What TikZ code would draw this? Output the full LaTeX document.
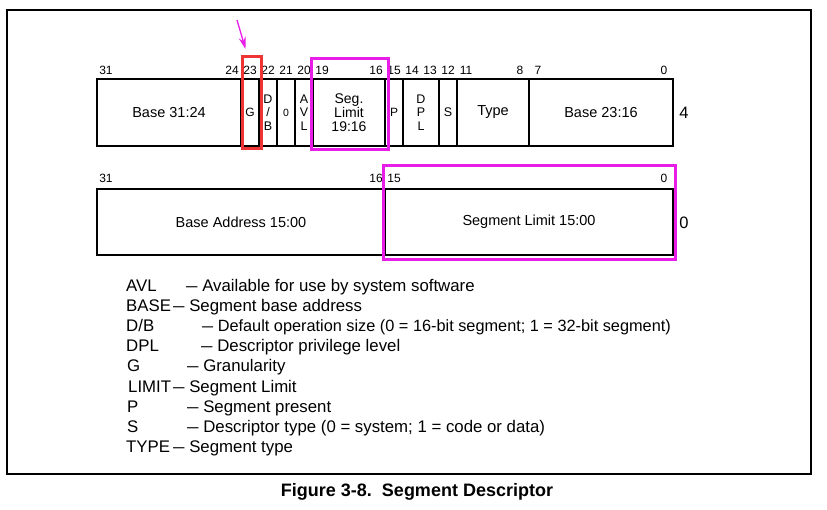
\documentclass[tikz,border=0pt]{standalone}
\usepackage{fontspec}
\setmainfont{Liberation Sans}
\usepackage{graphicx}
\usetikzlibrary{arrows.meta}
\definecolor{hlred}{RGB}{238,52,52}
\definecolor{hlmag}{RGB}{232,30,232}
\newcommand{\legdash}{\scalebox{0.68}[1]{—}}
\begin{document}
\begin{tikzpicture}[x=1pt,y=-1pt,
  cell/.style={draw, line width=1.6pt, inner sep=0pt, outer sep=0pt, align=center,
    font=\fontsize{14.5}{16}\selectfont},
  narrow/.style={cell, minimum width=18, minimum height=67, font=\fontsize{12.5}{13.5}\selectfont},
  tiny/.style={cell, minimum width=18, minimum height=67, font=\fontsize{10.5}{12}\selectfont},
  wide/.style={cell, minimum height=67},
  bitno/.style={inner sep=0pt, anchor=base, font=\fontsize{12}{12}\selectfont},
  legtext/.style={inner sep=0pt, anchor=base west, font=\fontsize{16.8}{18}\selectfont},
  rowno/.style={inner sep=0pt, font=\fontsize{16.5}{17}\selectfont},
]
\useasboundingbox (0,0) rectangle (827,510);
% outer frame
\draw[line width=2.2pt] (7,10) rectangle (811,474);

% ---- top row (offset 4) ----
\node[wide, minimum width=144] (base3124) at (169,112.5) {Base 31:24};
\node[narrow, font=\fontsize{12}{13}\selectfont] (g) at (250,112.5) {G};
\node[narrow] (db) at (268,112.5) {D\\/\\B};
\node[tiny] (zero) at (286,112.5) {0};
\node[narrow] (avl) at (304,112.5) {A\\V\\L};
\node[wide, minimum width=72, font=\fontsize{14}{14}\selectfont] (seglim) at (349,112.5) {Seg.\\Limit\\19:16};
\node[narrow, font=\fontsize{12}{13}\selectfont] (p) at (394,112.5) {P};
\node[narrow, minimum width=36] (dpl) at (421,112.5) {D\\P\\L};
\node[narrow] (s) at (448,112.5) {S};
\node[wide, minimum width=72] (type) at (493,112.5) {Type};
\node[wide, minimum width=144] (base2316) at (601,112.5) {Base 23:16};
\draw[line width=2.2pt] (97,79) rectangle (673,146);

\foreach \b in {31,24,23,22,21,20,19,16,15,14,13,12,11,8,7,0}
  \node[bitno] (t\b) at ({664-18*\b},75) {\b};
\node[rowno] (r4) at (684,113) {4};

% ---- bottom row (offset 0) ----
\node[cell, minimum width=288, minimum height=66] (baseaddr) at (241,222) {Base Address 15:00};
\node[cell, minimum width=288, minimum height=66] (seglimlow) at (529,222) {Segment Limit 15:00};
\draw[line width=2.2pt] (97,189) rectangle (673,255);
\foreach \b in {31,16,15,0}
  \node[bitno] (b\b) at ({664-18*\b},183) {\b};
\node[rowno] (r0) at (684,223) {0};

% ---- highlights ----
\draw[hlred, line width=3pt] (242.5,56.5) rectangle (261.5,148.5);
\draw[hlmag, line width=3pt] (311.5,58.5) rectangle (388.5,149.5);
\draw[hlmag, line width=3pt] (383.5,165.5) rectangle (675.5,259.5);
\coordinate (arrowstart) at (237,20);
\coordinate (arrowtip) at (245.5,49);
\draw[hlmag, line width=1.3pt, -{Stealth[length=12pt,width=7pt]}] (arrowstart) -- (arrowtip);

% ---- legend ----
\node[legtext] (a1) at (126,292) {AVL};
\node[legtext] (d1) at (186,292) {\legdash\ Available for use by system software};
\node[legtext] (a2) at (126,312) {BASE};
\node[legtext] (d2) at (173,312) {\legdash\ Segment base address};
\node[legtext] (a3) at (126,332) {D/B};
\node[legtext, font=\fontsize{16.3}{18}\selectfont] (d3) at (202,332) {\legdash\ Default operation size (0 = 16-bit segment; 1 = 32-bit segment)};
\node[legtext] (a4) at (126,352) {DPL};
\node[legtext] (d4) at (201,352) {\legdash\ Descriptor privilege level};
\node[legtext] (a5) at (127,372) {G};
\node[legtext] (d5) at (187,372) {\legdash\ Granularity};
\node[legtext] (a6) at (128,392) {LIMIT};
\node[legtext] (d6) at (173,392) {\legdash\ Segment Limit};
\node[legtext] (a7) at (127,412) {P};
\node[legtext] (d7) at (187,412) {\legdash\ Segment present};
\node[legtext] (a8) at (127,432) {S};
\node[legtext] (d8) at (187,432) {\legdash\ Descriptor type (0 = system; 1 = code or data)};
\node[legtext] (a9) at (126,452.5) {TYPE};
\node[legtext] (d9) at (173,452.5) {\legdash\ Segment type};

% ---- caption ----
\node[inner sep=0pt, anchor=base, font=\bfseries\fontsize{18}{20}\selectfont] (caption) at (417,496) {Figure 3-8.\ \ Segment Descriptor};
\end{tikzpicture}
\end{document}
